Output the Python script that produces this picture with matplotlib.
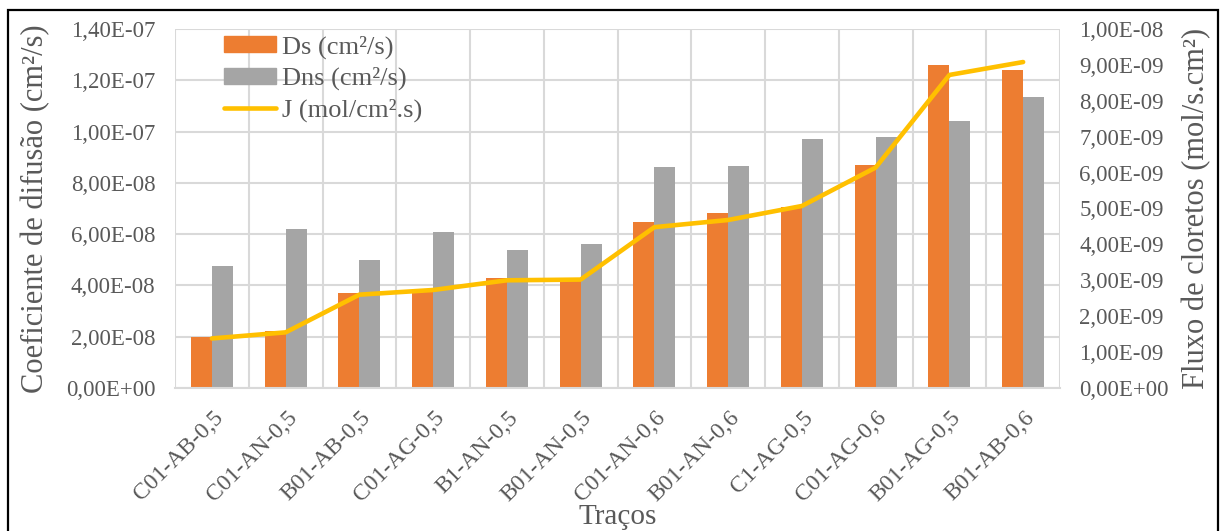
import numpy as np
import matplotlib.pyplot as plt
from matplotlib.patches import Patch, Rectangle
from matplotlib.lines import Line2D
from matplotlib.ticker import FuncFormatter, MultipleLocator
from matplotlib.transforms import ScaledTranslation

plt.rcParams['font.family'] = ['Liberation Serif', 'DejaVu Serif']

tracos = ['C01-AB-0,5', 'C01-AN-0,5', 'B01-AB-0,5', 'C01-AG-0,5', 'B1-AN-0,5', 'B01-AN-0,5',
          'C01-AN-0,6', 'B01-AN-0,6', 'C1-AG-0,5', 'C01-AG-0,6', 'B01-AG-0,5', 'B01-AB-0,6']
ds = [2.00e-8, 2.23e-8, 3.72e-8, 3.75e-8, 4.28e-8, 4.20e-8,
      6.47e-8, 6.81e-8, 7.05e-8, 8.71e-8, 12.58e-8, 12.40e-8]
dns = [4.77e-8, 6.20e-8, 4.99e-8, 6.08e-8, 5.39e-8, 5.62e-8,
       8.60e-8, 8.66e-8, 9.70e-8, 9.78e-8, 10.41e-8, 11.34e-8]
fluxo = [1.38e-9, 1.55e-9, 2.60e-9, 2.73e-9, 3.00e-9, 3.02e-9,
         4.48e-9, 4.68e-9, 5.07e-9, 6.14e-9, 8.72e-9, 9.08e-9]

laranja = '#ED7D31'
cinza = '#A5A5A5'
amarelo = '#FFC000'
texto = '#595959'
grade = '#D9D9D9'


def fmt(v, pos):
    return f'{v:.2E}'.replace('.', ',')


fig = plt.figure(figsize=(12.22, 5.31), dpi=100)
ax = fig.add_axes([175 / 1222, 1 - 388 / 531, (1060 - 175) / 1222, (388 - 29) / 531])
ax2 = ax.twinx()

x = np.arange(len(tracos))
w = 0.285
ax.bar(x - w / 2, ds, width=w, color=laranja, zorder=2)
ax.bar(x + w / 2, dns, width=w, color=cinza, zorder=2)
ax2.plot(x, fluxo, color=amarelo, lw=3.3, solid_capstyle='round', solid_joinstyle='round')

ax.set_xlim(-0.5, len(tracos) - 0.5)
ax.set_ylim(0, 1.4e-7)
ax2.set_ylim(0, 1.0e-8)
ax.yaxis.set_major_locator(MultipleLocator(2e-8))
ax2.yaxis.set_major_locator(MultipleLocator(1e-9))
ax.yaxis.set_major_formatter(FuncFormatter(fmt))
ax2.yaxis.set_major_formatter(FuncFormatter(fmt))

# grade horizontal e vertical (entre categorias)
ax.set_axisbelow(True)
ax.grid(axis='y', color=grade, lw=1.5, zorder=0)
for b in np.arange(-0.5, len(tracos), 1.0):
    ax.axvline(b, color=grade, lw=1.5, zorder=0)

for a in (ax, ax2):
    for s in a.spines.values():
        s.set_visible(False)
    a.tick_params(length=0, colors=texto, labelsize=16.5)
ax.spines['bottom'].set_visible(True)
ax.spines['bottom'].set_color(grade)
ax.spines['bottom'].set_linewidth(1.5)

ax.set_xticks(x)
ax.set_xticklabels(tracos, rotation=45, ha='right', va='center', rotation_mode='anchor', fontsize=17)
ax.tick_params(axis='x', pad=19)
desloc = ScaledTranslation(8 / 100, 0, fig.dpi_scale_trans)
for lbl in ax.get_xticklabels():
    lbl.set_transform(lbl.get_transform() + desloc)
ax.tick_params(axis='y', pad=14)
ax2.tick_params(axis='y', pad=14)

ax.set_ylabel('Coeficiente de difusão (cm²/s)', fontsize=22, color=texto)
ax2.set_ylabel('Fluxo de cloretos (mol/s.cm²)', fontsize=22, color=texto)
ax.set_xlabel('Traços', fontsize=21, color=texto, va='top')
ax.yaxis.set_label_coords(-0.141, 0.5)
ax2.yaxis.set_label_coords(1.138, 0.5)
ax.xaxis.set_label_coords(0.5, -0.322)

handles = [Patch(color=laranja), Patch(color=cinza), Line2D([], [], color=amarelo, lw=3.3, solid_capstyle='round')]
ax2.legend(handles, ['Ds (cm²/s)', 'Dns (cm²/s)', 'J (mol/cm².s)'], loc='upper left',
           bbox_to_anchor=(213 / 1222, 1 - 25 / 531), bbox_transform=fig.transFigure,
           frameon=False, fontsize=19, labelcolor=texto, handlelength=2.0, handleheight=0.55,
           handletextpad=0.2, labelspacing=0.3, borderaxespad=0)

# moldura da figura
fig.patches.append(Rectangle((8 / 1222, -0.01), (1218 - 8) / 1222, 1.01 - 10 / 531,
                             transform=fig.transFigure, fill=False, ec='black', lw=1.6))

fig.savefig('out.png', dpi=100)
